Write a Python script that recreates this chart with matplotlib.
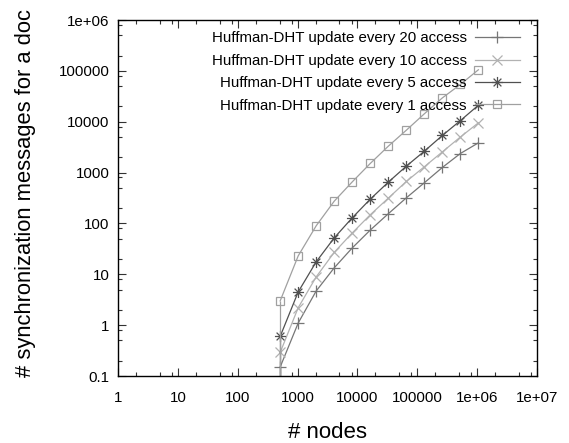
import matplotlib
matplotlib.use("Agg")
import matplotlib.pyplot as plt
from matplotlib.path import Path
from matplotlib.ticker import FixedLocator, FixedFormatter, NullFormatter

plt.rcParams['font.family'] = ['Liberation Sans', 'DejaVu Sans']

# network sizes (2^9 .. 2^20)
nodes = [512, 1024, 2048, 4096, 8192, 16384, 32768, 65536,
         131072, 262144, 524288, 1048576]

# synchronization messages per document, one list per update period
every20 = [0.15, 1.1, 4.7, 13.4, 33, 74, 155, 318, 630, 1260, 2370, 3840]
every10 = [0.29, 2.2, 8.9, 27, 65, 148, 314, 668, 1300, 2550, 5000, 9500]
every5 = [0.6, 4.5, 17.6, 52, 129, 300, 647, 1336, 2630, 5360, 10500, 21100]
every1 = [3.0, 23, 90, 274, 656, 1510, 3300, 6800, 14300, 29400, 54000, 105000]

labels = ["Huffman-DHT update every 20 access",
          "Huffman-DHT update every 10 access",
          "Huffman-DHT update every 5 access",
          "Huffman-DHT update every 1 access"]

xticks = [1, 10, 100, 1000, 10000, 100000, 1e6, 1e7]
xticklabels = ["1", "10", "100", "1000", "10000", "100000", "1e+06", "1e+07"]
yticks = [0.1, 1, 10, 100, 1000, 10000, 100000, 1e6]
yticklabels = ["0.1", "1", "10", "100", "1000", "10000", "100000", "1e+06"]

# gnuplot-like asterisk: plus and cross on top of each other
star = Path([(-1, 0), (1, 0), (0, -1), (0, 1),
             (-0.7, -0.7), (0.7, 0.7), (-0.7, 0.7), (0.7, -0.7)],
            [Path.MOVETO, Path.LINETO] * 4)

series = [
    (every20, '+', '#767676', 8),
    (every10, 'x', '#b2b2b2', 7),
    (every5, star, '#505050', 8),
    (every1, 's', '#a0a0a0', 6),
]

fig = plt.figure(figsize=(5.69, 4.43), dpi=100)
ax = fig.add_axes([118 / 569, 67 / 443, 419 / 569, 356 / 443])

ymin, ymax = 0.1, 1e6
for (vals, mk, col, ms), lab in zip(series, labels):
    ax.plot(nodes, vals, color=col, lw=0.9, marker=mk, markersize=ms,
            markerfacecolor='none', markeredgecolor=col, markeredgewidth=0.9,
            label=lab)
    # line drops to the bottom border at the first size
    ax.vlines(nodes[0], ymin, vals[0], color=col, lw=0.9)

ax.set_xscale('log')
ax.set_yscale('log')
ax.set_xlim(1, 1e7)
ax.set_ylim(ymin, ymax)

ax.xaxis.set_major_locator(FixedLocator(xticks))
ax.xaxis.set_major_formatter(FixedFormatter(xticklabels))
ax.yaxis.set_major_locator(FixedLocator(yticks))
ax.yaxis.set_major_formatter(FixedFormatter(yticklabels))
minor_x = [m * 10 ** e for e in range(0, 7) for m in (2, 5, 8)]
minor_y = [m * 10.0 ** e for e in range(-1, 6) for m in (2, 5, 8)]
ax.xaxis.set_minor_locator(FixedLocator(minor_x))
ax.yaxis.set_minor_locator(FixedLocator(minor_y))
ax.xaxis.set_minor_formatter(NullFormatter())
ax.yaxis.set_minor_formatter(NullFormatter())

ax.tick_params(which='both', direction='in', top=True, right=True,
               labelsize=10.8, color='#333333')
ax.tick_params(which='major', length=6, width=0.8)
ax.tick_params(which='minor', length=3, width=0.8)
ax.tick_params(axis='x', which='major', pad=11)
ax.tick_params(axis='y', which='major', pad=6)
for sp in ax.spines.values():
    sp.set_linewidth(1.0)

ax.set_xlabel("# nodes", fontsize=16, labelpad=12)
ax.set_ylabel("# synchronization messages for a doc", fontsize=15.8)
ax.yaxis.set_label_coords(-0.196, 0.515)

ax.legend(loc='upper right', bbox_to_anchor=(0.959, 0.968), frameon=False,
          markerfirst=False, fontsize=10.8, handlelength=3.0,
          handletextpad=0.55, labelspacing=0.56, borderpad=0, borderaxespad=0)

fig.savefig("out.png", dpi=100)
